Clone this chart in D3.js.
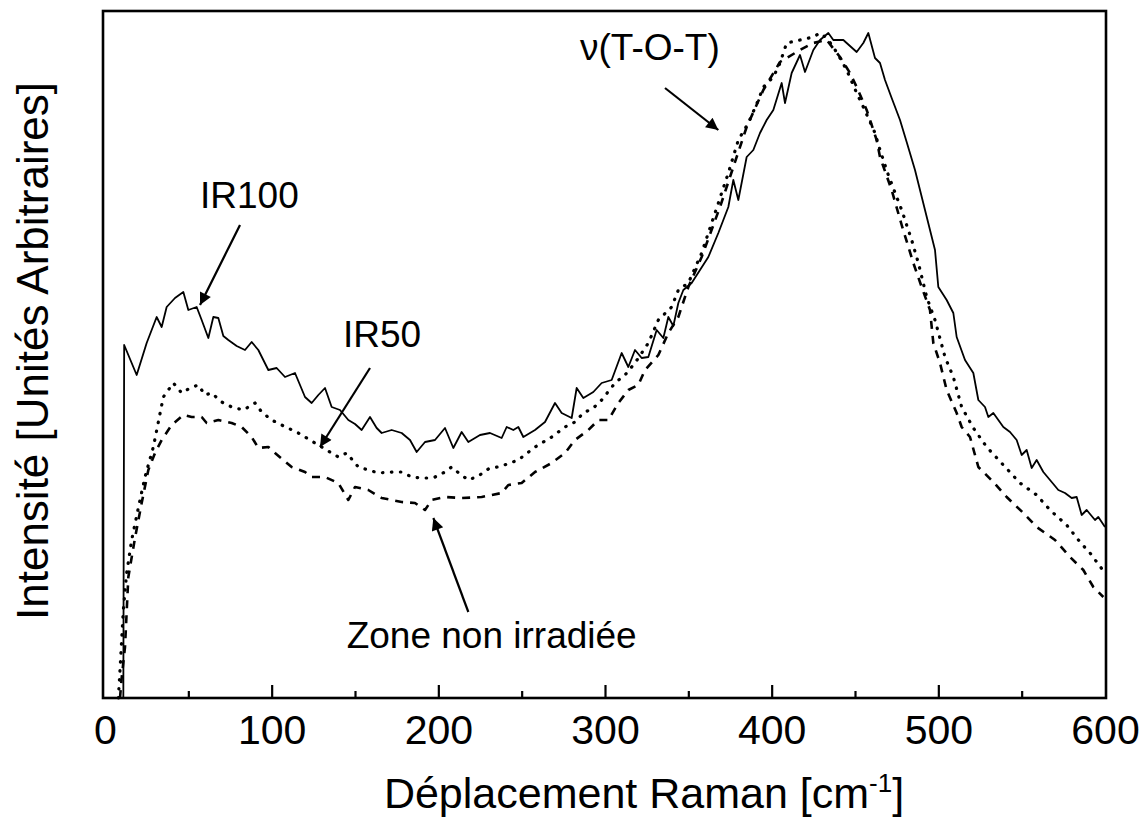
<!DOCTYPE html>
<html>
<head>
<meta charset="utf-8">
<script src="https://cdn.jsdelivr.net/npm/d3@7/dist/d3.min.js"></script>
<style>
  html, body { margin: 0; padding: 0; background: #fff; }
  svg { display: block; }
  text { font-family: "Liberation Sans", Arial, Helvetica, sans-serif; fill: #000; }
</style>
</head>
<body>
<svg id="chart" width="1148" height="822"></svg>
<script>
// Raman spectra: [Raman shift (cm-1), intensity (arbitrary units)]
const ir100 = [
  [11,0],[11.5,353],[19,323],[25,355],[31,381],[34,371],[37,391],[42,400],[47,406],[50,388],
  [55,391],[58,378],[62,360],[65,381],[68,380],[71,362],[74,358],[79,352],[84,348],[88,356],
  [92,348],[98,328],[103,330],[108,321],[114,325],[120,301],[124,295],[128,303],[132,310],[136,291],
  [141,288],[146,278],[150,274],[154,268],[159,281],[163,270],[166,265],[172,268],[178,265],[183,258],
  [187,246],[192,256],[198,258],[204,270],[209,250],[214,266],[218,256],[225,263],[231,265],[238,260],
  [241,271],[245,268],[248,271],[251,261],[258,268],[264,276],[270,295],[274,285],[280,280],[283,310],
  [287,300],[293,306],[298,315],[304,318],[310,345],[314,331],[318,348],[322,340],[326,341],[331,368],
  [335,360],[338,381],[341,372],[344,395],[347,408],[352,415],[357,428],[362,441],[368,465],[374,491],
  [377,518],[380,498],[385,541],[389,548],[393,565],[397,578],[401,588],[406,615],[408,595],[412,625],
  [417,643],[420,626],[425,648],[429,658],[434,665],[437,658],[443,658],[447,652],[451,646],[455,655],
  [458,665],[462,640],[465,635],[468,618],[472,600],[477,578],[481,556],[486,528],[492,488],[498,448],
  [500,411],[505,398],[509,385],[511,361],[516,338],[521,325],[524,298],[528,291],[530,281],[533,285],
  [539,271],[543,266],[547,258],[550,243],[553,248],[556,230],[559,238],[563,226],[567,218],[572,208],
  [576,205],[580,200],[583,201],[586,183],[589,188],[594,178],[596,181],[600,171]
];

const ir50 = [
  [8,0],[9,28],[11,88],[13,125],[16,158],[21,198],[24,221],[29,251],[35,301],[41,315],
  [46,305],[51,310],[56,313],[60,303],[64,305],[70,296],[76,291],[83,288],[90,295],[94,286],
  [100,278],[106,273],[116,265],[123,258],[130,251],[140,241],[145,245],[152,231],[158,228],[164,225],
  [173,226],[178,226],[184,221],[190,220],[194,220],[198,221],[204,226],[208,231],[213,224],[218,218],
  [224,222],[230,229],[238,232],[248,238],[258,251],[268,261],[276,271],[282,276],[287,285],[293,290],
  [298,298],[306,315],[312,323],[318,335],[326,355],[332,378],[340,391],[344,408],[350,415],[358,445],
  [366,485],[374,525],[380,558],[386,575],[392,598],[395,611],[401,621],[405,635],[409,655],[417,658],
  [425,661],[429,665],[433,660],[437,651],[441,640],[445,628],[451,605],[455,591],[462,565],[465,548],
  [470,523],[478,488],[484,458],[488,435],[493,401],[498,378],[504,341],[509,321],[514,291],[521,270],
  [529,251],[539,233],[549,215],[559,203],[567,188],[577,173],[585,156],[591,145],[600,125]
];

const nonIrradiee = [
  [9,0],[10,20],[12,51],[14,121],[18,160],[22,195],[26,228],[30,245],[34,258],[40,273],
  [47,283],[52,281],[58,281],[61,275],[68,278],[76,275],[82,271],[88,261],[92,250],[98,251],
  [102,245],[107,238],[112,231],[120,226],[124,221],[132,221],[140,215],[146,198],[150,211],[158,208],
  [166,200],[172,198],[178,196],[186,195],[192,188],[196,198],[204,201],[214,200],[226,201],[238,205],
  [242,213],[250,215],[258,226],[268,235],[276,245],[282,258],[290,268],[296,278],[302,278],[308,295],
  [314,308],[320,313],[324,328],[332,343],[338,365],[344,381],[350,411],[358,441],[369,491],[377,531],
  [385,571],[395,608],[405,636],[417,648],[425,655],[433,658],[441,641],[447,625],[451,611],[457,588],
  [463,558],[465,541],[472,508],[478,473],[485,435],[490,411],[495,388],[497,355],[501,335],[505,308],
  [511,285],[514,271],[519,261],[524,231],[533,216],[541,201],[551,185],[559,171],[570,158],[579,141],
  [587,128],[593,111],[599,101]
];

// Axis ticks
const majorTicks = [0, 100, 200, 300, 400, 500, 600];
const minorTicks = [50, 150, 250, 350, 450, 550];

// Labels with arrows: text anchor and arrow (from -> to) in data units
const labels = [
  { text: "IR100", at: [57, 490], from: [81, 473], to: [57, 393] },
  { text: "IR50", at: [142.8, 351], from: [159, 330], to: [129, 251] },
  { text: "\u03bd(T-O-T)", at: [285, 638], from: [336, 610], to: [368, 568] },
  { text: "Zone non irradiée", at: [145, 50], from: [218, 86], to: [197, 180] }
];

const svg = d3.select("#chart");
const frame = { left: 103, right: 1106, top: 11, bottom: 698 };

const x = d3.scaleLinear().domain([0, 600]).range([105, 1105]);
const y = d3.scaleLinear().domain([0, 687]).range([698, 11]);

// Spectra
const line = d3.line().x(d => x(d[0])).y(d => y(d[1]));
const series = [
  { data: ir100, dash: null, width: 1.8, cap: "butt" },
  { data: ir50, dash: "0.5 8.5", width: 3.2, cap: "round" },
  { data: nonIrradiee, dash: "8 7", width: 2.6, cap: "butt" }
];
svg.append("g").selectAll("path").data(series).join("path")
  .attr("d", d => line(d.data))
  .attr("fill", "none")
  .attr("stroke", "#000")
  .attr("stroke-width", d => d.width)
  .attr("stroke-linecap", d => d.cap)
  .attr("stroke-linejoin", "round")
  .attr("stroke-dasharray", d => d.dash);

// Bottom axis: inward major and minor ticks
const xAxisMajor = d3.axisBottom(x).tickValues(majorTicks).tickSize(-13).tickFormat(d3.format("d")).tickPadding(0);
const gx = svg.append("g").attr("transform", `translate(0,${frame.bottom})`).call(xAxisMajor);
gx.select(".domain").remove();
gx.selectAll(".tick line").attr("stroke", "#000").attr("stroke-width", 2.2);
gx.selectAll(".tick text")
  .attr("y", 46).attr("dy", 0)
  .style("font-size", "41px")
  .style("font-family", "'Liberation Sans', Arial, sans-serif")
  .attr("fill", "#000");
gx.selectAll(".tick").filter(d => d === 0 || d === 600).select("line").remove();

const gxMinor = svg.append("g").attr("transform", `translate(0,${frame.bottom})`)
  .call(d3.axisBottom(x).tickValues(minorTicks).tickSize(-7).tickFormat(""));
gxMinor.select(".domain").remove();
gxMinor.selectAll(".tick line").attr("stroke", "#000").attr("stroke-width", 2.2);

// Plot frame
svg.append("rect")
  .attr("x", frame.left).attr("y", frame.top)
  .attr("width", frame.right - frame.left).attr("height", frame.bottom - frame.top)
  .attr("fill", "none").attr("stroke", "#000").attr("stroke-width", 2.6);

// Axis titles
const xt = svg.append("text")
  .attr("x", 644).attr("y", 808)
  .attr("text-anchor", "middle")
  .style("font-size", "43px");
xt.append("tspan").text("Déplacement Raman [cm");
xt.append("tspan").attr("dy", -16).style("font-size", "26px").text("-1");
xt.append("tspan").attr("dy", 16).text("]");

svg.append("text")
  .attr("transform", "translate(48,351) rotate(-90)")
  .attr("text-anchor", "middle")
  .style("font-size", "44px")
  .text("Intensité [Unités Arbitraires]");

// Annotation arrows
const head = svg.append("defs").append("marker")
  .attr("id", "arrowhead")
  .attr("viewBox", "0 0 10 10")
  .attr("refX", 10).attr("refY", 5)
  .attr("markerWidth", 7).attr("markerHeight", 5.5)
  .attr("markerUnits", "strokeWidth")
  .attr("orient", "auto");
head.append("path").attr("d", "M0,0 L10,5 L0,10 Z").attr("fill", "#000");

const ann = svg.append("g");
ann.selectAll("line").data(labels).join("line")
  .attr("x1", d => x(d.from[0])).attr("y1", d => y(d.from[1]))
  .attr("x2", d => x(d.to[0])).attr("y2", d => y(d.to[1]))
  .attr("stroke", "#000").attr("stroke-width", 2.2)
  .attr("marker-end", "url(#arrowhead)");
ann.selectAll("text").data(labels).join("text")
  .attr("x", d => x(d.at[0])).attr("y", d => y(d.at[1]))
  .style("font-size", "37px")
  .text(d => d.text);
</script>
</body>
</html>
